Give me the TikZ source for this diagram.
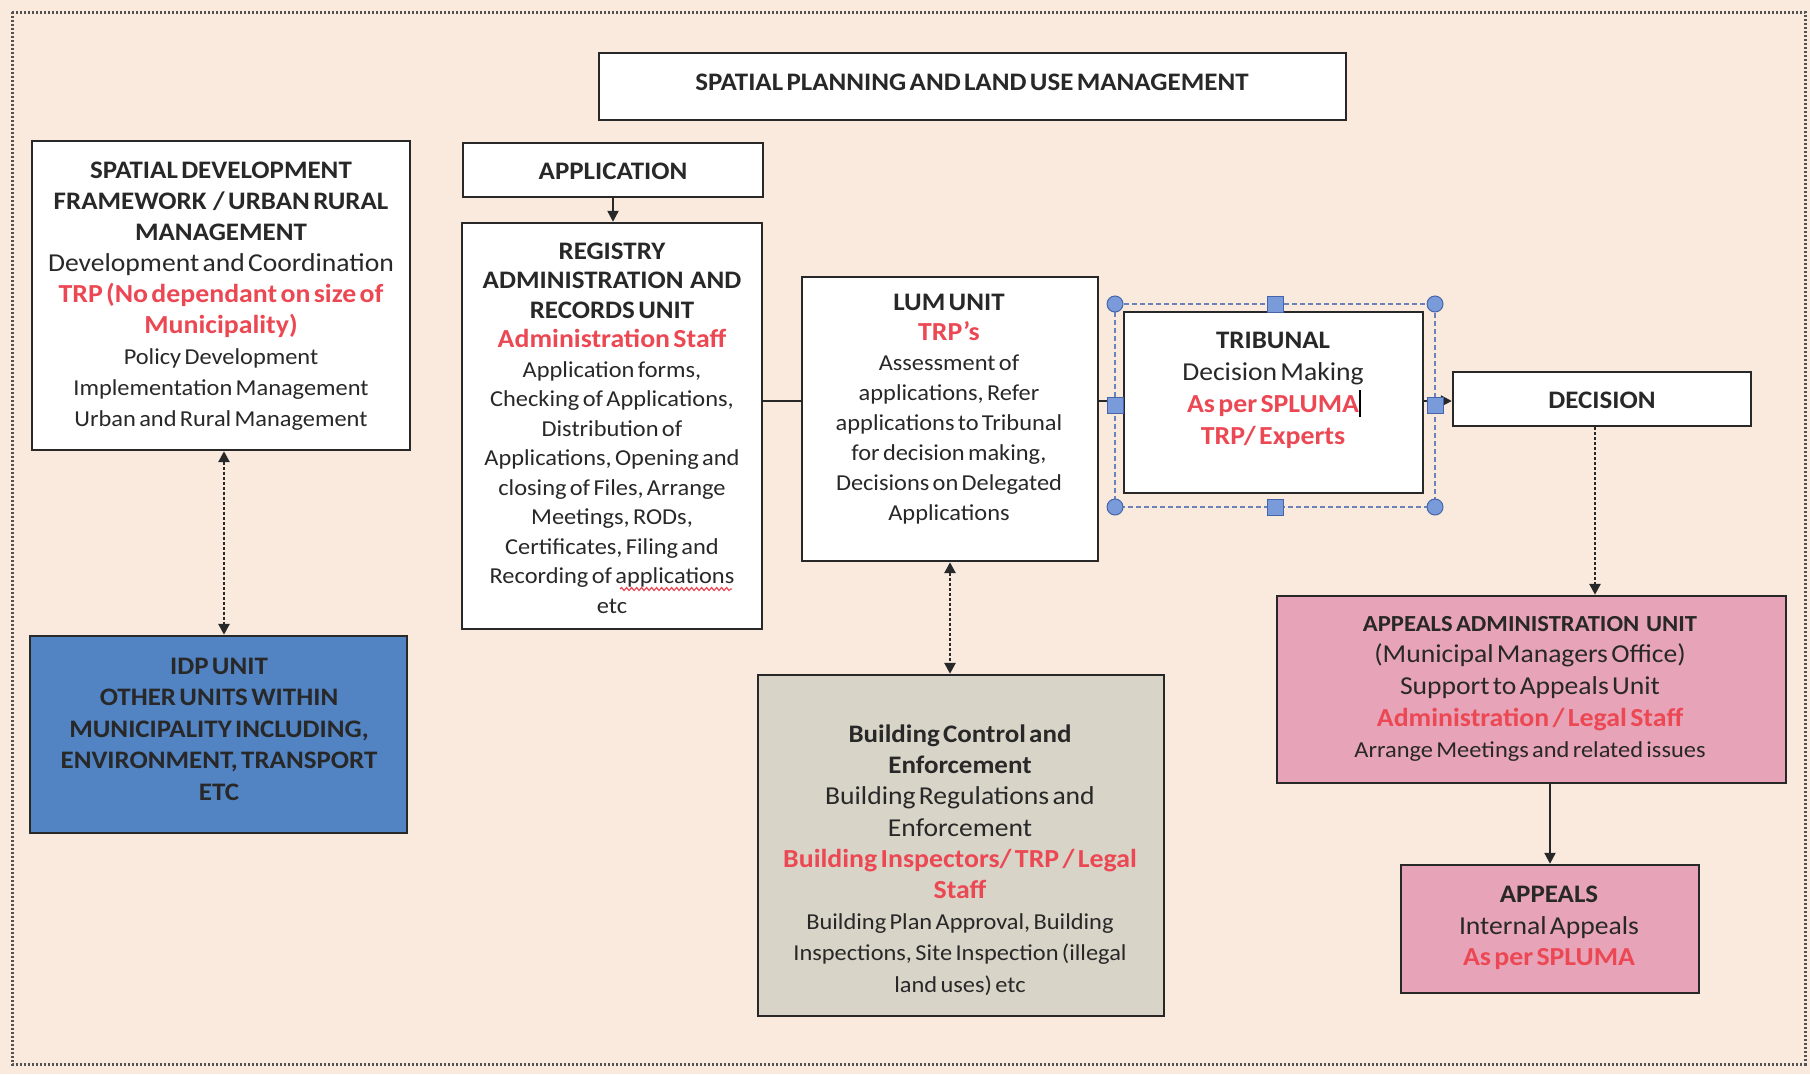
\documentclass[tikz,border=0pt]{standalone}
\usepackage{fontspec}
\setmainfont{Carlito}[FakeStretch=1.07]
\usetikzlibrary{arrows.meta,fit,decorations.pathmorphing}
\definecolor{bg}{RGB}{250,234,222}
\definecolor{ink}{RGB}{40,40,40}
\definecolor{redt}{RGB}{236,72,84}
\definecolor{pinkf}{RGB}{231,163,183}
\definecolor{greyf}{RGB}{216,212,200}
\definecolor{bluef}{RGB}{82,132,196}
\definecolor{handle}{RGB}{122,155,218}
\definecolor{handled}{RGB}{70,100,170}
\def\bsk{31pt}
\newcommand\hd{\fontsize{25.2}{\bsk}\selectfont\bfseries\color{ink}}
\newcommand\bd{\fontsize{25.8}{\bsk}\selectfont\mdseries\color{ink}}
\newcommand\rd{\fontsize{26}{\bsk}\selectfont\bfseries\color{redt}}
\newcommand\sm{\fontsize{22.8}{\bsk}\selectfont\mdseries\color{ink}}
\begin{document}
\begin{tikzpicture}[x=1pt,y=-1pt,
  box/.style={draw=ink, line width=2.4pt, inner sep=0pt, fill=white},
  txt/.style={align=center, inner sep=0pt, text=ink, text width=480pt},
  arr/.style={draw=ink, line width=2.2pt, -{Triangle[length=11pt,width=11pt]}},
  dotarr/.style={draw=ink, line width=2.6pt, dash pattern=on 3pt off 2pt, {Triangle[length=11pt,width=11pt]}-{Triangle[length=11pt,width=11pt]}},
  dotone/.style={draw=ink, line width=2.6pt, dash pattern=on 3pt off 2pt, -{Triangle[length=11pt,width=11pt]}},
  plain/.style={draw=ink, line width=2.2pt},
  selrect/.style={draw=handled!80, line width=1.4pt, dash pattern=on 5pt off 3pt},
  hcirc/.style={circle, fill=handle, draw=handled, line width=1pt, minimum size=16pt, inner sep=0pt},
  hsq/.style={rectangle, fill=handle, draw=handled, line width=1pt, minimum size=16pt, inner sep=0pt}
]
\useasboundingbox (0,0) rectangle (1810,1074);
\fill[bg] (0,0) rectangle (1810,1074);
\draw[draw=ink!80, line width=3pt, dash pattern=on 2pt off 2pt] (12,12) rectangle (1805,1064);

% boxes
\node[box, fit={(599,53) (1346,120)}] (title) {};
\node[box, fit={(32,141) (410,450)}] (sdf) {};
\node[box, fit={(463,143) (763,197)}] (app) {};
\node[box, fit={(462,223) (762,629)}] (reg) {};
\node[box, fit={(802,277) (1098,561)}] (lum) {};
\node[box, fit={(1124,312) (1423,493)}] (tri) {};
\node[box, fit={(1453,372) (1751,426)}] (dec) {};
\node[box, fill=pinkf, fit={(1277,596) (1786,783)}] (aad) {};
\node[box, fill=pinkf, fit={(1401,865) (1699,993)}] (apl) {};
\node[box, fill=bluef, fit={(30,636) (407,833)}] (idp) {};
\node[box, fill=greyf, fit={(758,675) (1164,1016)}] (bld) {};

% texts
\node[txt, text width=740pt] (titlet) at (972,82) {\hd SPATIAL PLANNING AND LAND USE MANAGEMENT\par};
\node[txt] (sdft) at (221,296) {\def\bsk{31pt}\hd SPATIAL DEVELOPMENT\\ FRAMEWORK \ / URBAN RURAL\\ MANAGEMENT\\ \bd Development and Coordination\\ \rd TRP (No dependant on size of\\ Municipality)\\ \sm Policy Development\\ Implementation Management\\ Urban and Rural Management\par};
\node[txt] (appt) at (613,171) {\hd APPLICATION\par};
\node[txt] (regt) at (612,428) {\def\bsk{29.5pt}\hd REGISTRY\\ ADMINISTRATION \ AND\\ RECORDS UNIT\\ \rd Administration Staff\\ \sm Application forms,\\ Checking of Applications,\\ Distribution of\\ Applications, Opening and\\ closing of Files, Arrange\\ Meetings, RODs,\\ Certificates, Filing and\\ Recording of applications\\ etc\par};
\node[txt] (lumt) at (949,409) {\def\bsk{30pt}\hd LUM UNIT\\ \rd TRP's\\ \sm Assessment of\\ applications, Refer\\ applications to Tribunal\\ for decision making,\\ Decisions on Delegated\\ Applications\par};
\node[txt] (trit) at (1273,390) {\def\bsk{32pt}\hd TRIBUNAL\\ \bd Decision Making\\ \rd As per SPLUMA\rlap{\color{black}\rule[-5pt]{2.5pt}{27pt}}\\ TRP/ Experts\par};
\node[txt] (dect) at (1602,400) {\hd DECISION\par};
\node[txt] (aadt) at (1530,689) {\def\bsk{31.7pt}\hd\fontsize{23}{\bsk}\selectfont APPEALS ADMINISTRATION \ UNIT\\ \bd (Municipal Managers Office)\\ Support to Appeals Unit\\ \rd Administration / Legal Staff\\ \sm Arrange Meetings and related issues\par};
\node[txt] (aplt) at (1549,928) {\def\bsk{31.7pt}\hd APPEALS\\ \bd Internal Appeals\\ \rd As per SPLUMA\par};
\node[txt] (idpt) at (219,729) {\def\bsk{31.5pt}\hd IDP UNIT\\ OTHER UNITS WITHIN\\ MUNICIPALITY INCLUDING,\\ ENVIRONMENT, TRANSPORT\\ ETC\par};
\node[txt] (bldt) at (960,860) {\def\bsk{31.2pt}\hd Building Control and\\ Enforcement\\ \bd Building Regulations and\\ Enforcement\\ \rd Building Inspectors/ TRP / Legal\\ Staff\\ \sm Building Plan Approval, Building\\ Inspections, Site Inspection (illegal\\ land uses) etc\par};

% spell-check squiggle
\draw[redt, line width=1.2pt, decorate, decoration={snake, amplitude=1.5pt, segment length=5pt}] (620,589) -- (732,589);

% connectors
\coordinate (lvl) at (0,401);
\draw[arr] (app.south) -- (reg.north -| app.south);
\draw[plain] (reg.east |- lvl) -- (lum.west |- lvl);
\draw[plain] (lum.east |- lvl) -- (tri.west |- lvl);
\draw[arr] (tri.east |- lvl) -- (dec.west |- lvl);
\coordinate (dx) at (1595,0);
\draw[dotone] (dec.south -| dx) -- (aad.north -| dx);
\draw[arr] (aad.south -| apl.north) -- (apl.north);
\coordinate (sx) at (224,0);
\draw[dotarr] (sdf.south -| sx) -- (idp.north -| sx);
\coordinate (lx) at (950,0);
\draw[dotarr] (lum.south -| lx) -- (bld.north -| lx);

% selection frame around tribunal
\coordinate (s1) at (1115,304);
\coordinate (s2) at (1435,507);
\draw[selrect] (s1) rectangle (s2);
\node[hcirc] (h1) at (s1) {};
\node[hcirc] (h2) at (s1 -| s2) {};
\node[hcirc] (h3) at (s2) {};
\node[hcirc] (h4) at (s2 -| s1) {};
\node[hsq] (h5) at (1275,304) {};
\node[hsq] (h6) at (1275,507) {};
\node[hsq] (h7) at (1115,405) {};
\node[hsq] (h8) at (1435,405) {};
\end{tikzpicture}
\end{document}
